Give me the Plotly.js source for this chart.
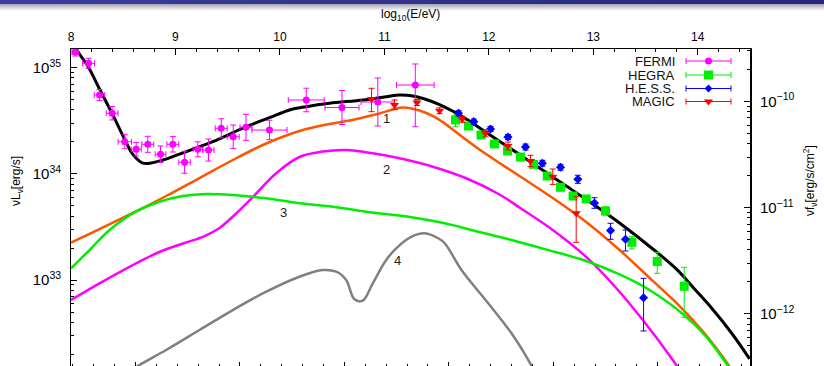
<!DOCTYPE html>
<html><head><meta charset="utf-8">
<script src="https://cdn.plot.ly/plotly-3.0.1.min.js"></script>
<style>
html,body{margin:0;padding:0;overflow:hidden;background:#fff;width:824px;height:366px}
#chart{position:absolute;left:0;top:0;width:824px;height:369px}
#hdr{position:absolute;left:0;top:0;width:824px;height:4px;background:linear-gradient(to right,#3b3c9e,#25287a);z-index:5}
#shd{position:absolute;left:0;top:4px;width:824px;height:7px;background:linear-gradient(to bottom,#a4a4b4,rgba(255,255,255,0));z-index:5}
</style></head><body>
<div id="chart"></div><div id="hdr"></div><div id="shd"></div>
<script>
// ---- data: x = log10(E/eV), y values given as log10(nuL_nu [erg/s]) ----
const fermiX    = [8.04, 8.168, 8.273, 8.394, 8.515, 8.624, 8.735, 8.857, 8.975, 9.087, 9.214, 9.316, 9.438, 9.553, 9.675, 9.900, 10.252, 10.594, 10.937, 11.296];
const fermiXErr = [0.03, 0.057, 0.05, 0.057, 0.064, 0.048, 0.057, 0.051, 0.057, 0.055, 0.045, 0.053, 0.057, 0.057, 0.057, 0.168, 0.172, 0.163, 0.160, 0.18];
const fermiLog  = [35.148, 35.041, 34.743, 34.571, 34.303, 34.232, 34.279, 34.185, 34.279, 34.109, 34.232, 34.225, 34.429, 34.350, 34.439, 34.413, 34.696, 34.625, 34.677, 34.837];
const fermiHi   = [35.186, 35.089, 34.795, 34.634, 34.369, 34.295, 34.354, 34.263, 34.351, 34.213, 34.302, 34.329, 34.519, 34.460, 34.561, 34.505, 34.807, 34.785, 34.903, 35.035];
const fermiLo   = [35.110, 34.994, 34.691, 34.508, 34.237, 34.169, 34.203, 34.106, 34.206, 34.006, 34.161, 34.121, 34.340, 34.240, 34.316, 34.322, 34.585, 34.465, 34.451, 34.444];

const hegraX   = [11.681, 11.805, 11.925, 12.054, 12.179, 12.303, 12.428, 12.559, 12.686, 12.806, 12.932, 13.117, 13.369, 13.612, 13.870];
const hegraLog = [34.508, 34.451, 34.366, 34.282, 34.216, 34.159, 34.090, 33.980, 33.874, 33.792, 33.764, 33.651, 33.356, 33.175, 32.942];
const hegraHi  = [34.555, 34.479, 34.394, 34.310, 34.244, 34.187, 34.118, 34.008, 33.902, 33.820, 33.792, 33.689, 33.409, 33.262, 33.121];
const hegraLo  = [34.444, 34.423, 34.338, 34.254, 34.188, 34.131, 34.062, 33.952, 33.846, 33.764, 33.736, 33.613, 33.293, 33.064, 32.650];

const hessX   = [11.710, 11.856, 12.016, 12.183, 12.351, 12.512, 12.686, 12.852, 13.011, 13.165, 13.308, 13.481];
const hessLog = [34.571, 34.492, 34.423, 34.347, 34.253, 34.100, 34.062, 33.949, 33.726, 33.467, 33.384, 32.834];
const hessHi  = [34.595, 34.516, 34.447, 34.371, 34.281, 34.128, 34.090, 33.987, 33.776, 33.535, 33.472, 33.017];
const hessLo  = [34.547, 34.468, 34.399, 34.323, 34.225, 34.072, 34.034, 33.911, 33.676, 33.384, 33.274, 32.521];

const magicX   = [10.877, 11.097, 11.312, 11.528, 11.745, 11.968, 12.182, 12.399, 12.612, 12.836];
const magicLog = [34.705, 34.649, 34.672, 34.595, 34.514, 34.382, 34.263, 34.121, 33.974, 33.629];
const magicHi  = [34.806, 34.696, 34.700, 34.623, 34.542, 34.415, 34.300, 34.175, 34.046, 33.785];
const magicLo  = [34.586, 34.608, 34.644, 34.567, 34.486, 34.349, 34.225, 34.068, 33.901, 33.356];

// model curves (total and components 1-4)
const totalX   = [8.014, 8.081, 8.161, 8.273, 8.400, 8.512, 8.570, 8.627, 8.675, 8.735, 8.879, 9.039, 9.357, 9.677, 9.900, 10.092, 10.252, 10.475, 10.793, 11.017, 11.145, 11.272, 11.400, 11.528, 11.652, 11.783, 11.942, 12.102, 12.262, 12.421, 12.581, 12.741, 12.932, 13.251, 13.570, 13.794, 13.969, 14.132, 14.323, 14.496];
const totalLog = [35.242, 35.129, 35.016, 34.799, 34.555, 34.329, 34.216, 34.145, 34.107, 34.098, 34.131, 34.187, 34.303, 34.444, 34.529, 34.602, 34.633, 34.665, 34.696, 34.727, 34.743, 34.734, 34.701, 34.653, 34.592, 34.517, 34.413, 34.307, 34.203, 34.098, 33.992, 33.886, 33.759, 33.538, 33.293, 33.105, 32.916, 32.737, 32.502, 32.259];

const c1X   = [8.000, 8.273, 8.592, 8.911, 9.230, 9.549, 9.869, 10.187, 10.475, 10.666, 10.953, 11.173, 11.336, 11.480, 11.623, 11.766, 11.910, 12.102, 12.293, 12.612, 12.932, 13.251, 13.570, 13.826, 14.046, 14.208, 14.313, 14.380];
const c1Log = [33.354, 33.481, 33.632, 33.792, 33.961, 34.131, 34.286, 34.404, 34.470, 34.503, 34.569, 34.625, 34.597, 34.536, 34.442, 34.333, 34.230, 34.103, 33.980, 33.773, 33.547, 33.283, 32.992, 32.756, 32.520, 32.318, 32.172, 32.059];

const c2X   = [8.000, 8.273, 8.592, 8.879, 9.087, 9.278, 9.422, 9.565, 9.740, 9.964, 10.187, 10.410, 10.634, 10.889, 11.145, 11.464, 11.783, 12.102, 12.293, 12.612, 12.932, 13.219, 13.474, 13.761, 13.825];
const c2Log = [32.813, 32.970, 33.142, 33.279, 33.349, 33.415, 33.491, 33.613, 33.782, 34.006, 34.159, 34.211, 34.225, 34.194, 34.147, 34.068, 33.959, 33.806, 33.684, 33.472, 33.218, 32.926, 32.624, 32.248, 32.154];

const c3X   = [8.000, 8.081, 8.177, 8.369, 8.592, 8.847, 9.070, 9.294, 9.549, 9.869, 10.187, 10.506, 10.826, 11.260, 11.578, 11.898, 12.217, 12.536, 12.932, 13.251, 13.538, 13.889, 14.081, 14.272, 14.352];
const c3Log = [33.111, 33.189, 33.283, 33.472, 33.629, 33.738, 33.792, 33.811, 33.801, 33.770, 33.723, 33.691, 33.644, 33.591, 33.535, 33.456, 33.378, 33.292, 33.180, 33.053, 32.907, 32.655, 32.467, 32.217, 32.106];

const c4X   = [8.464, 8.639, 8.911, 9.230, 9.549, 9.869, 10.187, 10.410, 10.539, 10.634, 10.714, 10.793, 10.889, 11.017, 11.113, 11.260, 11.387, 11.515, 11.578, 11.738, 11.994, 12.217, 12.377, 12.437];
const c4Log = [32.078, 32.191, 32.342, 32.530, 32.718, 32.891, 33.032, 33.095, 33.079, 33.001, 32.819, 32.806, 32.970, 33.189, 33.299, 33.409, 33.441, 33.394, 33.347, 33.095, 32.782, 32.499, 32.248, 32.135];

const curveLabels = ['1', '2', '3', '4'];
const legendNames = ['FERMI', 'HEGRA', 'H.E.S.S.', 'MAGIC'];

// ---- helpers / styling ----
const FONT = 'Liberation Sans, Arial, Helvetica, sans-serif';
const pow10 = a => a.map(v => Math.pow(10, v));
const Y_RANGE = [32.163, 35.176];          // log10 range of left axis
const FLUX_OFFSET = 44.682;                // log10(nuL_nu) - log10(nu f_nu)
const NU_OFFSET = 14.383;                  // log10(nu/Hz) - log10(E/eV)

function curve(x, logy, color, w) {
  return {x: x, y: pow10(logy), mode: 'lines', type: 'scatter', line: {color: color, width: w, shape: 'spline', smoothing: 1},
          hoverinfo: 'skip', showlegend: false};
}
function pts(x, logy, hi, lo, xerr, color, symbol, size) {
  const y = pow10(logy);
  const up = pow10(hi).map((v, i) => v - y[i]);
  const dn = y.map((v, i) => v - Math.pow(10, lo[i]));
  const t = {x: x, y: y, mode: 'markers', type: 'scatter', showlegend: false, hoverinfo: 'skip',
    marker: {color: color, symbol: symbol, size: size, line: {width: 0}},
    error_y: {type: 'data', symmetric: false, array: up, arrayminus: dn, color: color, thickness: 1, width: 3}};
  if (xerr) t.error_x = {type: 'data', array: xerr, color: color, thickness: 1, width: 3};
  return t;
}

const traces = [
  curve(c4X, c4Log, '#808080', 2.5),
  curve(c2X, c2Log, '#ff00ff', 2.5),
  curve(c1X, c1Log, '#ff5500', 2.5),
  curve(c3X, c3Log, '#00ee00', 2.5),
  curve(totalX, totalLog, '#000000', 3),
  pts(fermiX, fermiLog, fermiHi, fermiLo, fermiXErr, '#ff00ff', 'circle', 7),
  pts(hegraX, hegraLog, hegraHi, hegraLo, null, '#00ee00', 'square', 9),
  pts(hessX, hessLog, hessHi, hessLo, null, '#0000ff', 'diamond', 7),
  pts(magicX, magicLog, magicHi, magicLo, null, '#ff0000', 'triangle-down', 8),
  {x: [], y: [], xaxis: 'x2', yaxis: 'y', type: 'scatter', showlegend: false},
  {x: [], y: [], xaxis: 'x', yaxis: 'y2', type: 'scatter', showlegend: false}
];

// custom legend (gnuplot style: text right-aligned, sample on the right), pixel layout
const legendColors = ['#ff00ff', '#00ee00', '#0000ff', '#ff0000'];
const legendSymbols = ['circle', 'square', 'diamond', 'triangle-down'];
const legendSizes = [7, 9, 6, 8];
const legendRowPos = [61, 75, 88.5, 101.5];
const legendSamplePos = 708.5, legendHalf = 22.5, legendTextPos = 677;
legendNames.forEach((n, i) => {
  traces.push({x: [legendSamplePos], y: [legendRowPos[i]], xaxis: 'x3', yaxis: 'y3', type: 'scatter', mode: 'markers',
    showlegend: false, hoverinfo: 'skip', cliponaxis: false,
    marker: {color: legendColors[i], symbol: legendSymbols[i], size: legendSizes[i]},
    error_x: {type: 'constant', value: legendHalf, color: legendColors[i], thickness: 1, width: 3}});
});

const annotations = [
  {text: 'log<sub>10</sub>(E/eV)', xref: 'paper', yref: 'paper', x: 0.5, y: 1.106, xanchor: 'center', yanchor: 'middle', showarrow: false, font: {size: 12}},
  {text: 'νL<sub>ν</sub>[erg/s]', xref: 'paper', yref: 'paper', x: -0.0795, y: 0.5875, xanchor: 'center', yanchor: 'middle', textangle: -90, showarrow: false, font: {size: 12}},
  {text: 'νf<sub>ν</sub>[erg/s/cm<sup>2</sup>]', xref: 'paper', yref: 'paper', x: 1.0884, y: 0.5875, xanchor: 'center', yanchor: 'middle', textangle: -90, showarrow: false, font: {size: 12}}
];
const labelPos = [[11.02, 34.526], [11.02, 34.037], [10.034, 33.632], [11.126, 33.189]];
curveLabels.forEach((t, i) => annotations.push({text: t, x: labelPos[i][0], y: labelPos[i][1], xref: 'x', yref: 'y', xanchor: 'center', yanchor: 'middle', showarrow: false, font: {size: 13, color: '#222'}}));
legendNames.forEach((n, i) => annotations.push({text: n, x: legendTextPos, y: legendRowPos[i], xref: 'x3', yref: 'y3', xanchor: 'right', yanchor: 'middle', showarrow: false, font: {size: 13, color: '#111'}}));

const axCommon = {showline: true, linecolor: '#000', linewidth: 1.5, ticks: 'inside', tickcolor: '#000', tickwidth: 1, showgrid: false, zeroline: false, fixedrange: true};

const layout = {
  width: 824, height: 369,
  margin: {l: 71, r: 74, t: 49, b: 0, pad: 0},
  paper_bgcolor: 'rgba(0,0,0,0)', plot_bgcolor: 'rgba(0,0,0,0)',
  font: {family: FONT, size: 12, color: '#000'},
  showlegend: false,
  xaxis: Object.assign({}, axCommon, {side: 'top', range: [8, 14.5], dtick: 1, tick0: 0, ticklen: 6, ticklabelstandoff: 2,
    minor: {dtick: 0.2, ticks: 'inside', ticklen: 3, tickcolor: '#000', showgrid: false}, tickfont: {size: 12}}),
  xaxis2: Object.assign({}, axCommon, {overlaying: 'x', anchor: 'y', side: 'bottom', range: [8 + NU_OFFSET, 14.5 + NU_OFFSET], dtick: 1, tick0: 0,
    ticklen: 7, showticklabels: false, minor: {dtick: 0.2, ticks: 'inside', ticklen: 5, tickcolor: '#000', showgrid: false}}),
  xaxis3: {overlaying: 'x', anchor: 'y3', range: [71, 750], visible: false, fixedrange: true},
  yaxis: Object.assign({}, axCommon, {type: 'log', range: Y_RANGE, dtick: 1, exponentformat: 'power', ticklen: 6, ticklabelstandoff: 6,
    minor: {dtick: 'D1', ticks: 'inside', ticklen: 3, tickcolor: '#000', showgrid: false}, tickfont: {size: 12}}),
  yaxis2: Object.assign({}, axCommon, {type: 'log', overlaying: 'y', anchor: 'x', side: 'right', range: [Y_RANGE[0] - FLUX_OFFSET, Y_RANGE[1] - FLUX_OFFSET],
    dtick: 1, exponentformat: 'power', ticklen: 6, ticklabelstandoff: 6,
    minor: {dtick: 'D1', ticks: 'inside', ticklen: 3, tickcolor: '#000', showgrid: false}, tickfont: {size: 12}}),
  yaxis3: {overlaying: 'y', anchor: 'x3', range: [369, 49], visible: false, fixedrange: true},
  annotations: annotations
};

Plotly.newPlot('chart', traces, layout, {staticPlot: true, displayModeBar: false});
</script></body></html>
